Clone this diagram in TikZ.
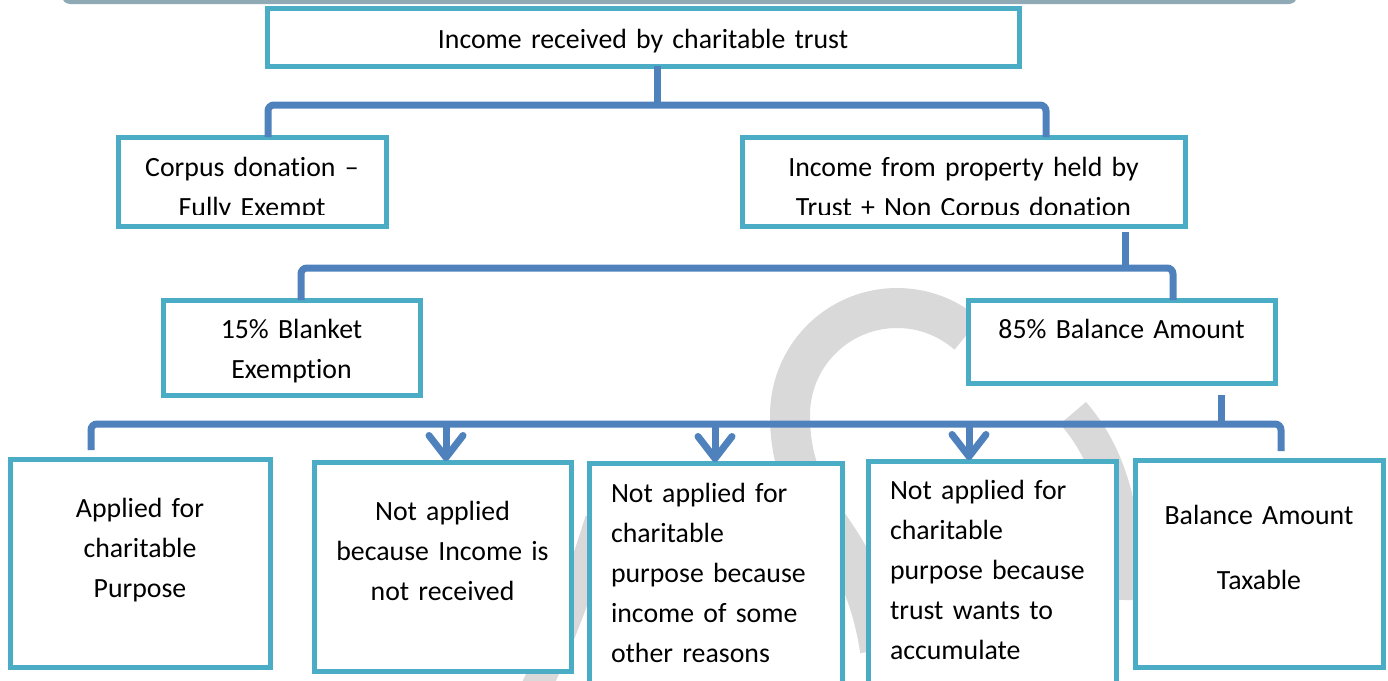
\documentclass[tikz,border=0pt]{standalone}
\usepackage{fontspec}
\setmainfont{Carlito}[Ligatures={TeX,NoCommon}]
\usetikzlibrary{arrows.meta, positioning}

\definecolor{framecol}{HTML}{4BACC6}
\definecolor{linkcol}{HTML}{4F81BD}
\definecolor{bannercol}{HTML}{8FAAB4}
\definecolor{logogrey}{HTML}{D9D9D9}

\begin{document}
\begin{tikzpicture}[
    x=1pt, y=-1pt,
    box/.style={rectangle, draw=framecol, line width=5pt, fill=white, inner xsep=0pt, inner ysep=0pt, outer sep=0pt, align=center, anchor=north west, font=\fontsize{27.8}{40}\selectfont},
    leftbox/.style={box, align=left, inner xsep=22pt},
    boxline/.style={draw=framecol, line width=5pt},
    link/.style={draw=linkcol, line width=7pt, rounded corners=6pt},
    arrow/.style={link, -{Straight Barb[length=22pt, width=34pt, round]}},
    logo/.style={draw=logogrey, line width=40pt}
]
\clip (0,0) rectangle (1388,680);

% grey logo behind the boxes
\draw[logo] (897,415) ++(-49:107) arc[start angle=-49, end angle=-180, radius=107]
    .. controls (790,520) and (860,520) .. (880,650);
\draw[logo, line width=34pt] (1073,413) .. controls (1110,455) and (1127,515) .. (1125,600);
\draw[logo, line width=30pt] (600,520) .. controls (578,590) and (560,640) .. (530,700);

% title bar
\fill[bannercol, rounded corners=8pt] (62,-20) rectangle (1297,4);

% Income received
\node[box, text width=752pt, text height=40pt, text depth=18pt] (income) at (267,8) {Income received by charitable trust};

% Corpus / non corpus (second line runs out of the frame)
\begin{scope}
  \clip (0,0) rectangle (1388,214);
  \node[box, draw=none, text width=268pt, text height=39pt, text depth=50pt] (corpus) at (118,137) {Corpus donation –\\Fully Exempt};
  \node[box, draw=none, text width=443pt, text height=39pt, text depth=50pt] (property) at (742,137) {Income from property held by\\Trust + Non Corpus donation};
\end{scope}
\draw[boxline] (corpus.north west) rectangle (corpus.south east);
\draw[boxline] (property.north west) rectangle (property.south east);

% 15% / 85%
\node[box, text width=257pt, text height=38pt, text depth=57pt] (blanket) at (163,300) {15\% Blanket\\Exemption};
\node[box, text width=307pt, text height=38pt, text depth=45pt] (balance) at (968,300) {85\% Balance Amount};

% Application of the 85%
\node[box, text width=260pt, text height=58pt, text depth=150pt] (applied) at (10,459) {Applied for\\charitable\\Purpose};
\node[box, right=44pt of applied.north east, anchor=north west, yshift=-3pt, text width=257pt, text height=58pt, text depth=151pt] (notreceived) {Not applied\\because Income is\\not received};
\node[leftbox, right=18pt of notreceived.north east, anchor=north west, yshift=-1pt, text width=209pt, text height=39pt, text depth=198pt] (otherreason) {Not applied for\\charitable\\purpose because\\income of some\\other reasons};
\node[leftbox, right=26pt of otherreason.north east, anchor=north west, yshift=2pt, text width=204pt, text height=38pt, text depth=201pt] (accumulate) {Not applied for\\charitable\\purpose because\\trust wants to\\accumulate};
\node[box, right=19pt of accumulate.north east, anchor=north west, yshift=1pt, text width=248pt, text height=64pt, text depth=143pt] (taxable) {Balance Amount\\[25pt]Taxable};

% Brackets
\draw[link] ([xshift=14pt]income.south) -- ++(0,39) coordinate (fork1);
\draw[link] ([xshift=16pt]corpus.north) |- (fork1) -| ([xshift=82.5pt]property.north);

\draw[link] ([shift={(161.5,6)}]property.south) -- ++(0,36) coordinate (fork2);
\draw[link] ([xshift=9.5pt]blanket.north) |- (fork2) -| ([xshift=51.5pt]balance.north);

\draw[link] ([shift={(99.5,12)}]balance.south) -- ++(0,29) coordinate (fork3);
\draw[link] ([shift={(-49,-9)}]applied.north) |- (fork3) -| ([shift={(22,-9)}]taxable.north);

% Arrows
\foreach \target/\dx in {notreceived/3.5, otherreason/-0.5, accumulate/-23}
  \draw[arrow] ([shift={(\dx,-38)}]\target.north) -- ([shift={(\dx,-1)}]\target.north);

\end{tikzpicture}
\end{document}
